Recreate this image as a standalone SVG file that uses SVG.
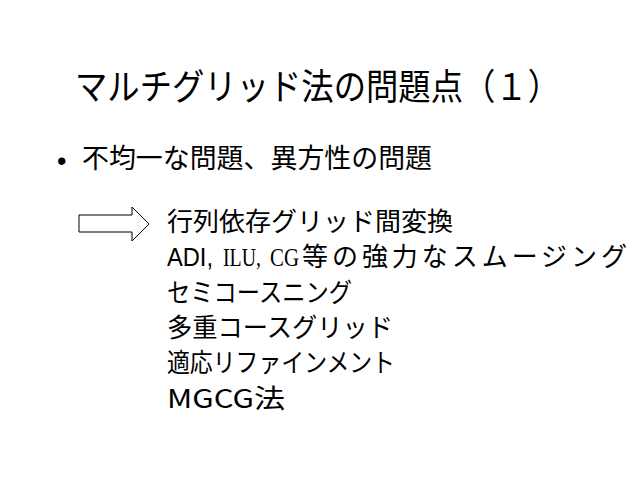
<svg xmlns="http://www.w3.org/2000/svg" width="640" height="480" viewBox="0 0 640 480">
<style>
.jp{font-family:"Noto Sans CJK JP","Liberation Sans",sans-serif;fill:#000}
.t{font-size:36px}
.b{font-size:27px}
.s{font-size:26px}
.sr{font-family:"Liberation Serif","Noto Serif CJK JP",serif;font-size:25px;fill:#000}
.lat{font-family:"Liberation Sans",sans-serif;font-size:25px;fill:#000}
</style>
<rect width="640" height="480" fill="#fff"/>
<g id="title">
<text class="jp t" x="75" y="100" textLength="485" lengthAdjust="spacingAndGlyphs">マルチグリッド法の問題点（１）</text>
</g>
<g id="bullet">
<text class="lat" x="57" y="170" style="font-size:27px">•</text>
<text class="jp b" x="82" y="168" textLength="350" lengthAdjust="spacingAndGlyphs">不均一な問題、異方性の問題</text>
</g>
<g id="arrow">
<polygon points="79,215 132,215 132,207 149,224 132,241 132,232 79,232" fill="#fff" stroke="#000" stroke-width="1"/>
</g>
<g id="list">
<text class="jp s" x="167" y="231" textLength="286" lengthAdjust="spacingAndGlyphs">行列依存グリッド間変換</text>
<text class="lat" x="167" y="266" textLength="46" lengthAdjust="spacingAndGlyphs">ADI,</text>
<text class="sr" x="223" y="266" textLength="38" lengthAdjust="spacingAndGlyphs">ILU,</text>
<text class="sr" x="270" y="266" textLength="29" lengthAdjust="spacingAndGlyphs">CG</text>
<text class="jp s" x="302" y="266" textLength="325" lengthAdjust="spacing">等の強力なスムージング</text>
<text class="jp s" x="167" y="302" textLength="185" lengthAdjust="spacingAndGlyphs">セミコースニング</text>
<text class="jp s" x="167" y="337" textLength="226" lengthAdjust="spacingAndGlyphs">多重コースグリッド</text>
<text class="jp s" x="167" y="372" textLength="228" lengthAdjust="spacingAndGlyphs">適応リファインメント</text>
<text class="jp s" x="167" y="408" textLength="118" lengthAdjust="spacingAndGlyphs">MGCG法</text>
</g>
</svg>
